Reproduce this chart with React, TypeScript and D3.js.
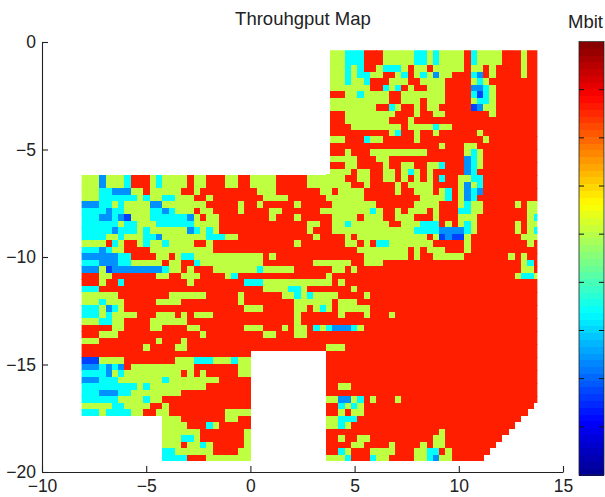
import React, { useRef, useEffect } from 'react'
import * as d3 from 'd3'

// measured map cells, letter + run length, "west|east" (c0-39 | c40-72)
const cellCodes = ['d', 'b', 'c', 'g', 'r']
const cellValues = [1.7, 2.4, 3.4, 5.05, 7.6]

const northRows = [
  '|g2c3r3g5c2g1c1g4r1c1g4r3g1r2',
  '|g2c3r3g5c2g1c1g4r1c1g4r3g1r2',
  '|g2c3r3g5c2g1c1g4r1c1g4r3g1r2',
  '|g2c1g1c1r2g1c3g1r1g2r1g5r1g2r1g1r4g1r2',
  '|g2c1g1c2g2r2g1c1r1g1c1g1b1g2r3c1b1r1g1r4g1r2',
  '|g2c1g2c1r3g3r2g4r4g1c1g1r8',
  '|g6r2c1g1c1r1g1r2g3r4b2c1g1r7',
  '|r2g2c1g4r2g7r4c1d1c1g1r7',
  '|g9r2g3r1g3r4g1c2g1r7',
  '|g7r2c1g1r2g1r1g2r5d1b1g2r7',
  '|r2g8r3g1r2g2r7g1r7',
  '|r2g7r3g1r20',
  '|r3g8r1g4c1g2r14',
  '|r9g1c1r2g1r2g1r6g1r9',
  '|g2r3c1g2r5g1r10g1r8',
  '|r17g1r3g2r10',
  '|r2g1r3g9r6g1c1g1r9',
  '|g4r3g2r12b1c1g1r9',
  '|r2g2r4g1r2g2r2g2c1r3b1c1g1r9',
  '|g3r1g2r2g2r1g1c1g1r1g1r5b1c1r10',
]

const middleRows = [
  'g3b1g3c1r3g1c1g4r1g2r3g2r2g4r5g4|g2r2g2r2g2r1g1r1g1r1g1r1c1r2g2c2r9',
  'g3b1g3c1r3g1c1g4r1g2r3g2r2g4r5g4|g3r2g1r4g1r1g4r4g1b1g1c1r9',
  'g3c2b3g2r1g5r2g1r9g3r7g2|r1g4r5g1r2g3r1g1c1r1g1b1c1b1r9',
  'g3c6g1c1g2c2g3r2g1r8g4r6g1|g5r9g4c1r1g1b1c1r10',
  'b3c2g1c1g4b2g7r5g1r2g1r5g1r5|g7r6g4r3g1c1g2r5g1r1g2',
  'c4b1c2g4c2b1c1g3r1g2r4g1r4g2r6g2|g6c1g1r2g1r1g3r1g1r3c2g2r7g2',
  'c3b2c1b1d1g3c6b1g1r1g2r8g1r3g1r5|g4r1g3r2g3r3g1r3g3r8g1c1',
  'c6g1c2g3c6g4r14g2r2|g2c1g6r2g3c3r1g1r1g1c1g1r6g1r1g2',
  'c5b1c3g1c1g6b1c1g1c1g1r14g1r3|g13c4b4c1g1r6g1r1g1c1',
  'c4g2c1g3c2b1g7c3g2r12g1r2|r2g1r1g11r1g1d1b1d2g1r8g3',
  'g4r1c1g1r2g1c1g2c1g4r2g1r13g1r5|r2g2r1g1r1c2g7r5g1r9g1r1',
  'c3b1c1g2r4g10r19|r4g8r1g1r1g3r3g1r11',
  'b6c2r4g2r1g1c2g11r1g1r9|r5g7r1g1r2g5r7g1r1g1r2',
  'c3b3c2g5r1g2r2c1g10r8g3|g3r2g3r22g1c1r1',
  'b3g1d1b8c1g2r1g1r3g7c1g5r6|g2r1g1r26g2r1',
  'r3g2r7g2r2g3r4g1c1r14g1|r29g1c2g1',
  'r3g1r2c1r10g1r8c3g11|r1g1r31',
  'c3r26g4c2g1r4|r3g1r29',
  'g6r8g6r5g1r6g2c1g1c1g3|g1r4g1r27',
  'g3c1g3r5g4r9g1r8g6|r1g3r29',
  'c3g1b1c1g1r19g3r5g2r1g1c1g1|r1g5r27',
  'c3g1c1g4r3g3r1g1r1g3r13g1r5|r1g1r3g1r3g1r23',
  'g3c2g2r4g6r17g1r5|r33',
  'r5g2r4g2r4g2r7g3r3g1r1g2r1c1g1c1|b3c1g1r28',
  'r3g3r13g1r9g2r3g2r4|r33',
  'g3r9g1r3g1r23|r33',
  'r10g1r4g2r22g1|g2r31',
]

// w = no measurement (hole in the floor plan)
const southRows = [
  'r27w12|r34',
  'd3g4r8g3c3g3c1g2w12|r34',
  'b3c1b1c1b1r1g10r7g2w12|r34',
  'c4b1g1c1g9r1g1r1g1r5g2w12|r34',
  'b3c3g7c1g8r5w12|r34',
  'c9g1c1g9r7w12|r2g2r30',
  'c3b3c2g8r11w12|r34',
  'c6g4c1g2r14w12|g2b2g1c1r1g1r3g1r22',
  'g5c2g4r2g1r13w12|r2c1g1c1g1r27',
  'c3g1c4g2r2g2r9g4w12|r2g1r1g2r26',
  'w13g3r7g2r2w12|g2c3r26',
  'w13g4r3c1g1r5w12|g2c1g1r26',
  'w13g6r7g1w12|r18g1r10',
  'w13g3c2g1r7g1w12|r2g1r2g2r10g2r9',
  'w13g3r1g2c1g1r5g1w12|r4g2r4g1r4g1r1g2r8',
  'w13c2g6r4g2w12|r2c1g1r3g4r3g2c2r1g1r6',
  'w13c4r3g7w12|g3c1r3c1g2r4g2c1b1g2r5',
]

const xTicks = [-10, -5, 0, 5, 10, 15]
const yTicks = [0, -5, -10, -15, -20]
const colorbarTicks = [1, 2, 3, 4, 5, 6, 7, 8]
const jetStops = [0, 0.125, 0.375, 0.625, 0.875, 1]
const jetColors = ['#00008f', '#0000ff', '#00ffff', '#ffff00', '#ff0000', '#800000']

const WIDTH = 605
const HEIGHT = 497
const CELL = 0.302
const GRID_X0 = -8.157
const GRID_Y0 = -0.167
const COLS = 73

const x = d3.scaleLinear().domain([-10, 15]).range([42, 563])
const y = d3.scaleLinear().domain([0, -20]).range([42, 472])
const barY = d3.scaleLinear().domain([0, 9]).range([475, 41.5])
const jet = d3.scaleLinear<string>().domain(jetStops).range(jetColors).interpolate(d3.interpolateRgb)
const color = (v: number) => jet(v / 9)

const expand = (s: string) => s.replace(/([a-z])(\d+)/g, (_, c, n) => c.repeat(+n))

function decodeRow(row: string) {
  const [w, e] = row.split('|').map(expand)
  const west = w === '' ? '.'.repeat(39) + e[0] : w
  return (west + e).padEnd(COLS, '.')
}

const cells = [...northRows, ...middleRows, ...southRows].flatMap((row, i) =>
  Array.from(decodeRow(row)).flatMap((code, j) => {
    const k = cellCodes.indexOf(code)
    return k < 0 ? [] : [{ i, j, value: cellValues[k] }]
  })
)

const outline: [number, number][] = [
  [3.82, -0.386],
  [13.77, -0.386],
  [13.77, -19.5],
  [-8.1, -19.5],
  [-8.1, -6.14],
  [3.82, -6.14],
]

const barLevels = d3.range(64)

export default function App() {
  const xAxisRef = useRef<SVGGElement>(null)
  const yAxisRef = useRef<SVGGElement>(null)

  useEffect(() => {
    const fmt = (d: any) => String(d).replace('-', '\u2212')
    d3.select(xAxisRef.current!)
      .call(d3.axisBottom(x).tickValues(xTicks).tickFormat(fmt).tickSizeInner(-6).tickSizeOuter(0).tickPadding(8) as any)
    d3.select(yAxisRef.current!)
      .call(d3.axisLeft(y).tickValues(yTicks).tickFormat(fmt).tickSizeInner(-6).tickSizeOuter(0).tickPadding(6) as any)
    d3.selectAll('.axis text')
      .attr('font-family', '"Liberation Sans", Arial, sans-serif')
      .attr('font-size', 17.5)
      .attr('fill', '#222')
    d3.selectAll('.axis line, .axis path').attr('stroke', '#222').attr('stroke-width', 1.1)
  }, [])

  const line = d3.line()
  const clipD = line(outline.map(([a, b]) => [x(a), y(b)] as [number, number])) + 'Z'

  return (
    <svg
      width={WIDTH}
      height={HEIGHT}
      style={{ position: 'absolute', left: 0, top: 0, background: '#fff' }}
      fontFamily='"Liberation Sans", Arial, sans-serif'
    >
      <defs>
        <clipPath id="floor">
          <path d={clipD} />
        </clipPath>
      </defs>
      <g clipPath="url(#floor)" shapeRendering="crispEdges">
        {cells.map(c => (
          <rect
            key={`${c.i}-${c.j}`}
            x={x(GRID_X0 + c.j * CELL)}
            y={y(GRID_Y0 - c.i * CELL)}
            width={x(CELL) - x(0) + 0.3}
            height={y(-CELL) - y(0) + 0.3}
            fill={color(c.value)}
          />
        ))}
      </g>
      <g className="axis" ref={xAxisRef} transform={`translate(0,${y(-20)})`} />
      <g className="axis" ref={yAxisRef} transform={`translate(${x(-10)},0)`} />
      <text x={303} y={25} textAnchor="middle" fontSize={18.5} fill="#222">
        Throuhgput Map
      </text>
      <text x={568} y={28} fontSize={18.5} fill="#222">
        Mbit
      </text>

      <g shapeRendering="crispEdges">
        {barLevels.map(l => (
          <rect
            key={l}
            x={579}
            width={25}
            y={barY((9 * (l + 1)) / 64)}
            height={barY(0) - barY(9 / 64) + 0.5}
            fill={color((9 * (l + 0.5)) / 64)}
          />
        ))}
      </g>
      <rect x={579} y={barY(9)} width={25} height={barY(0) - barY(9)} fill="none" stroke="#222" strokeWidth={0.8} />
      {colorbarTicks.map(t => (
        <g key={t} stroke="#111" strokeWidth={1}>
          <line x1={579} x2={584} y1={barY(t)} y2={barY(t)} />
          <line x1={599} x2={604} y1={barY(t)} y2={barY(t)} />
        </g>
      ))}
    </svg>
  )
}
